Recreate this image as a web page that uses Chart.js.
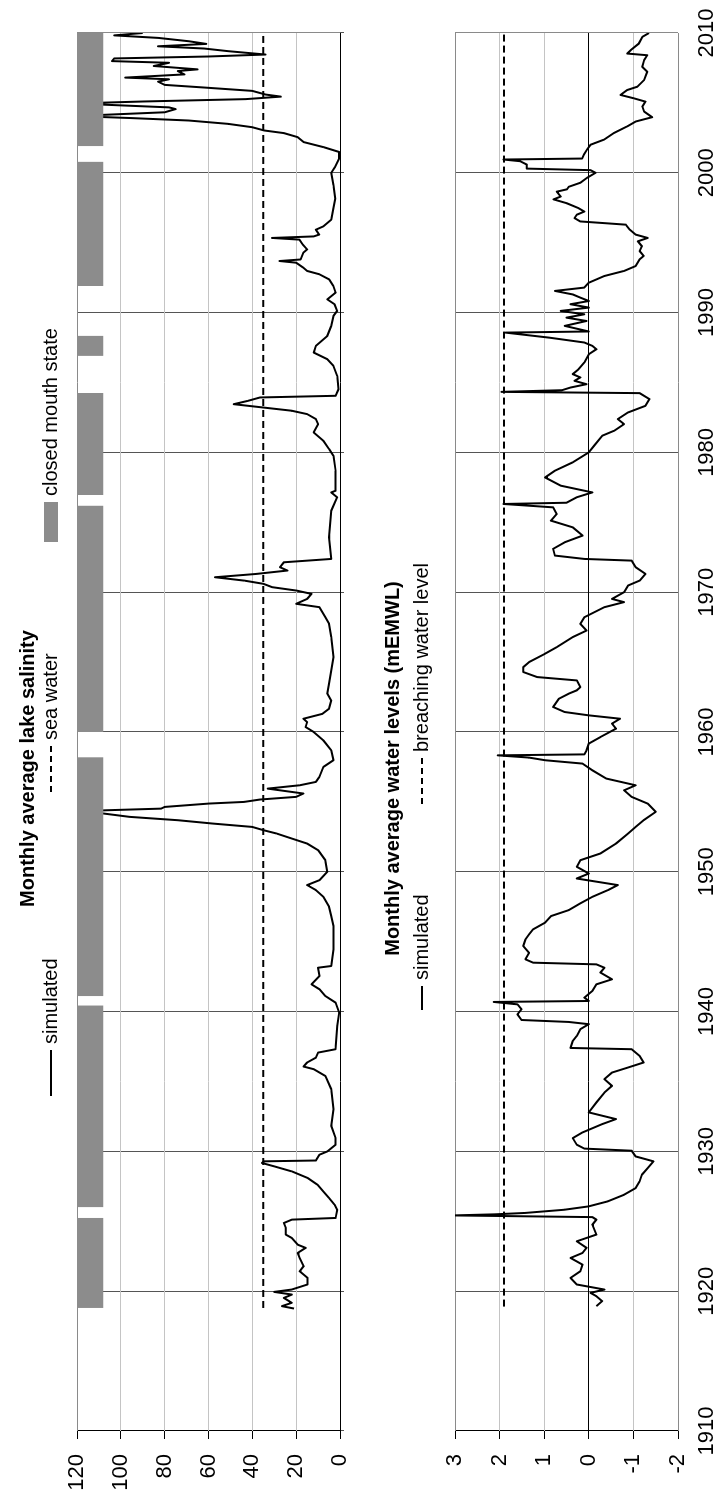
<!DOCTYPE html>
<html>
<head>
<meta charset="utf-8">
<script src="https://cdn.jsdelivr.net/npm/chart.js@4.4.1/dist/chart.umd.min.js"></script>
<style>
  html, body { margin: 0; padding: 0; background: #fff; width: 723px; height: 1504px; overflow: hidden; }
  /* the figure is drawn landscape and turned a quarter left */
  #rot { position: absolute; left: 0; top: 0; width: 1504px; height: 723px;
         transform-origin: 0 0; transform: translate(0, 1504px) rotate(-90deg); }
  #rot canvas { position: absolute; left: 0; }
  #salinity { top: 0; }
  #levels { top: 370px; }
</style>
</head>
<body>
<div id="rot">
  <canvas id="salinity" width="1504" height="370"></canvas>
  <canvas id="levels" width="1504" height="353"></canvas>
</div>
<script>
// --- data ---
const yearTicks = [1910, 1920, 1930, 1940, 1950, 1960, 1970, 1980, 1990, 2000, 2010];
const salinityTicks = [0, 20, 40, 60, 80, 100, 120];
const levelTicks = [-2, -1, 0, 1, 2, 3];

// monthly average lake salinity (simulated)
const salYears = [1918.76, 1918.93, 1919.17, 1919.52, 1919.76, 1919.95, 1920.12, 1920.48, 1920.95, 1921.43,
  1921.79, 1922.38, 1922.74, 1923.1, 1923.33, 1923.81, 1924.05, 1924.52, 1924.88, 1925.12,
  1925.24, 1925.83, 1926.19, 1926.67, 1927.14, 1927.62, 1928.1, 1928.57, 1928.93, 1929.17,
  1929.29, 1929.35, 1929.76, 1930.0, 1930.48, 1930.95, 1931.83, 1933.02, 1934.45, 1935.4,
  1935.88, 1936.07, 1936.36, 1936.71, 1937.07, 1937.31, 1938.98, 1939.93, 1940.64, 1941.12,
  1941.6, 1941.95, 1942.55, 1943.14, 1943.26, 1944.45, 1946.12, 1946.83, 1947.5, 1948.21,
  1948.69, 1949.05, 1949.4, 1950.0, 1950.83, 1951.55, 1952.02, 1952.38, 1952.74, 1952.98,
  1953.21, 1953.45, 1953.69, 1953.93, 1954.17, 1954.3, 1954.4, 1954.52, 1954.64, 1954.88,
  1955.0, 1955.17, 1955.36, 1955.6, 1955.95, 1956.19, 1956.43, 1956.79, 1957.5, 1957.98,
  1958.69, 1959.4, 1960.0, 1960.36, 1960.71, 1960.95, 1961.3, 1961.67, 1962.26, 1962.74,
  1963.45, 1964.4, 1965.36, 1966.79, 1967.74, 1968.21, 1968.93, 1969.17, 1969.52, 1969.88,
  1970.12, 1970.36, 1970.6, 1970.83, 1971.07, 1971.31, 1971.55, 1971.79, 1972.14, 1972.38,
  1973.93, 1975.83, 1976.79, 1977.14, 1977.26, 1978.69, 1979.76, 1980.24, 1980.83, 1981.43,
  1982.02, 1982.38, 1982.74, 1982.98, 1983.21, 1983.45, 1983.69, 1983.93, 1984.05, 1984.52,
  1985.48, 1986.19, 1986.67, 1987.14, 1987.62, 1988.33, 1989.05, 1989.76, 1990.12, 1990.6,
  1990.95, 1991.43, 1991.9, 1992.38, 1992.74, 1992.98, 1993.21, 1993.57, 1993.69, 1993.8,
  1994.29, 1994.52, 1994.87, 1995.22, 1995.34, 1995.45, 1995.58, 1995.93, 1996.17, 1996.64,
  1997.5, 1998.15, 1999.1, 2000.0, 2000.43, 2001.02, 2001.49, 2001.84, 2002.2, 2002.55,
  2002.84, 2003.03, 2003.26, 2003.5, 2003.74, 2003.92, 2004.06, 2004.33, 2004.56, 2004.68,
  2004.96, 2005.1, 2005.27, 2005.45, 2005.6, 2005.86, 2006.1, 2006.29, 2006.52, 2006.69,
  2006.81, 2007.04, 2007.28, 2007.4, 2007.64, 2007.87, 2007.99, 2008.18, 2008.32, 2008.46,
  2008.7, 2008.89, 2009.05, 2009.22, 2009.41, 2009.65, 2009.83, 2010.0];
const salValues = [21, 26.5, 22, 25.6, 22, 30, 22, 14.8, 14.8, 18.4,
  16.6, 18.4, 19.3, 15.7, 19.3, 22, 24.7, 24.7, 25.6, 22,
  2, 1.3, 2.5, 5, 7.6, 10.3, 14.8, 22, 30, 35.6,
  34.7, 11, 9.4, 5.8, 2, 2, 4, 3, 4, 6.7,
  12, 16.6, 15, 11, 10, 2, 1.3, 0.4, 2, 6.7,
  9.4, 13, 9.4, 10, 4, 3, 3, 4, 5, 7.6,
  11, 15, 9.4, 5.8, 6.7, 10, 15, 22, 29, 35,
  40, 58, 74, 96, 108, 121, 107, 81.6, 80, 60,
  43.7, 36.5, 20, 16.7, 33, 18.4, 11, 9.4, 7.6, 3,
  4, 7.6, 12, 15.7, 15, 16.7, 8, 5, 4, 5.8,
  5, 4, 3, 4, 5, 6.7, 9.4, 20, 15, 13,
  20, 31, 35, 43.7, 57, 38, 24, 27.4, 25.6, 4,
  5, 4, 1.3, 4, 2, 2, 3, 5, 7.6, 12,
  10, 11, 15, 22, 35, 48.5, 42, 36.5, 2, 0.7,
  1.3, 3, 5.8, 12, 11, 5.8, 4, 3, 1.3, 2.5,
  5.8, 2, 3, 5, 9.4, 15, 16.7, 20, 27.6, 18,
  16.7, 15, 17, 18.5, 31, 12, 9.5, 11, 7.6, 4,
  3, 2.2, 3, 4, 2.2, 0.4, 0.4, 7.6, 16.6, 19.3,
  25.6, 34.7, 40, 51, 69, 96, 121, 80, 75, 78,
  121, 90, 43, 27, 34, 40, 62, 80, 83, 78,
  98, 71, 74, 65, 85, 78, 104, 103, 60, 34,
  51, 62, 83, 61, 69, 83, 103, 90];

const seaWater = 35;
const seaWaterYears = [1918.8, 2010];

// periods with a closed mouth
const closedStart = [1918.8, 1926.0, 1941.1, 1960.0, 1976.95, 1986.9, 1991.9, 2001.9];
const closedEnd = [1925.25, 1940.45, 1958.2, 1976.2, 1984.25, 1988.35, 2000.8, 2010];

// monthly average water levels (mEMWL, simulated)
const levelYears = [1918.93, 1919.29, 1919.64, 1919.88, 1920.12, 1920.48, 1920.95, 1921.43, 1921.9, 1922.38,
  1922.74, 1923.1, 1923.57, 1924.05, 1924.76, 1925.12, 1925.3, 1925.42, 1925.5, 1925.6,
  1925.83, 1926.07, 1926.43, 1926.9, 1927.38, 1927.86, 1928.33, 1928.81, 1929.29, 1929.64,
  1930.05, 1930.2, 1930.48, 1930.95, 1931.36, 1931.95, 1932.31, 1932.79, 1933.5, 1934.21,
  1934.69, 1935.17, 1935.64, 1936.0, 1936.36, 1936.83, 1937.31, 1937.4, 1937.9, 1938.26,
  1938.74, 1939.1, 1939.26, 1939.4, 1939.81, 1940.17, 1940.52, 1940.69, 1940.76, 1941.0,
  1941.48, 1941.95, 1942.31, 1942.79, 1943.14, 1943.38, 1943.5, 1943.74, 1944.21, 1944.69,
  1945.17, 1945.52, 1945.88, 1946.36, 1946.83, 1947.26, 1947.74, 1948.21, 1948.69, 1949.05,
  1949.52, 1949.88, 1950.36, 1950.83, 1951.31, 1952.02, 1952.74, 1953.21, 1953.69, 1954.29,
  1954.88, 1955.36, 1955.83, 1956.19, 1956.67, 1957.26, 1957.74, 1957.98, 1958.17, 1958.33,
  1958.4, 1958.69, 1959.17, 1959.64, 1960.24, 1960.6, 1960.95, 1961.19, 1961.43, 1961.79,
  1962.38, 1962.74, 1962.98, 1963.21, 1963.69, 1963.93, 1964.29, 1964.64, 1965.0, 1965.6,
  1966.07, 1966.79, 1967.26, 1967.74, 1968.21, 1968.93, 1969.29, 1969.52, 1970.0, 1970.48,
  1970.83, 1971.31, 1971.79, 1972.26, 1972.38, 1972.62, 1973.1, 1973.57, 1974.05, 1974.64,
  1975.12, 1975.6, 1976.07, 1976.31, 1976.4, 1976.79, 1977.14, 1977.26, 1977.62, 1978.21,
  1978.69, 1979.29, 1980.0, 1980.48, 1981.19, 1981.55, 1982.02, 1982.38, 1982.86, 1983.33,
  1983.81, 1984.24, 1984.33, 1984.45, 1984.64, 1984.88, 1985.12, 1985.36, 1985.6, 1985.95,
  1986.43, 1987.02, 1987.38, 1987.62, 1987.86, 1988.21, 1988.57, 1988.65, 1989.05, 1989.4,
  1989.64, 1989.88, 1990.12, 1990.36, 1990.6, 1990.83, 1991.07, 1991.3, 1991.55, 1991.79,
  1992.14, 1992.62, 1992.98, 1993.33, 1993.81, 1994.05, 1994.4, 1994.75, 1995.1, 1995.34,
  1995.58, 1995.93, 1996.29, 1996.4, 1996.52, 1996.76, 1997.0, 1997.23, 1997.47, 1997.83,
  1998.1, 1998.3, 1998.65, 1998.82, 1999.0, 1999.29, 1999.64, 2000.0, 2000.19, 2000.3,
  2000.59, 2000.83, 2000.95, 2001.02, 2001.3, 2001.66, 2002.01, 2002.37, 2002.84, 2003.32,
  2003.67, 2003.98, 2004.38, 2004.74, 2005.09, 2005.33, 2005.57, 2005.92, 2006.16, 2006.64,
  2007.23, 2007.58, 2008.06, 2008.41, 2008.53, 2008.77, 2009.24, 2009.72, 2010.0];
const levelValues = [-0.17, -0.3, -0.17, -0.04, -0.35, 0.27, 0.41, 0.19, 0.14, 0.41,
  0.14, 0.05, 0.27, -0.17, -0.08, -0.17, -0.08, 3.05, 2.1, 1.42,
  0.54, 0, -0.43, -0.79, -1.05, -1.14, -1.19, -1.32, -1.45, -1.05,
  -0.96, 0.1, 0.27, 0.36, 0.14, -0.3, -0.61, 0, -0.17, -0.35,
  -0.52, -0.35, -0.52, -0.88, -1.23, -1.14, -0.96, 0.41, 0.36, 0.27,
  0.19, 0, 0.45, 1.51, 1.6, 1.51, 1.6, 2.13, 0, 0.1,
  -0.08, -0.17, -0.52, -0.26, -0.35, -0.17, 1.25, 1.42, 1.34, 1.47,
  1.42, 1.34, 1.25, 0.98, 0.85, 0.45, 0.19, -0.08, -0.43, -0.65,
  0.27, 0, 0.27, 0.19, -0.26, -0.61, -0.88, -1.05, -1.23, -1.5,
  -1.32, -0.96, -0.79, -1.05, -0.39, -0.08, 0.14, 0.98, 1.34, 2.04,
  0.1, 0.05, 0, -0.26, -0.61, -0.52, -0.7, 0, 0.54, 0.8,
  0.67, 0.45, 0.27, 0.19, 0.27, 1.16, 1.47, 1.47, 1.34, 0.98,
  0.72, 0.36, 0.05, 0.19, 0.1, -0.35, -0.79, -0.52, -0.79, -0.88,
  -1.14, -1.27, -1.05, -0.96, 0.1, 0.76, 0.8, 0.54, 0.14, 0.36,
  0.85, 0.72, 0.8, 1.91, 0.5, 0.27, -0.08, 0.1, 0.63, 0.98,
  0.76, 0.36, 0, -0.12, -0.3, -0.57, -0.79, -0.65, -0.88, -1.27,
  -1.36, -1.14, 1.96, 0.6, 0.41, 0.05, 0.32, 0.19, 0.36, 0.23,
  0.1, 0, -0.17, -0.08, 0.1, 0.89, 1.87, 0, 0.54, 0.05,
  0.5, 0.1, 0.63, 0, 0.41, 0, 0.19, 0.36, 0.76, 0.1,
  0, -0.35, -0.79, -1.05, -1.14, -1.23, -1.14, -1.19, -1.1, -1.32,
  -1.05, -0.92, -0.83, -0.35, 0.19, 0.32, 0.27, 0.1, 0.23, 0.5,
  0.79, 0.63, 0.72, 0.49, 0.45, 0.19, 0.04, -0.15, -0.04, 1.39,
  1.39, 1.54, 1.91, 0.15, 0.11, 0.04, -0.04, -0.34, -0.56, -0.86,
  -1.05, -1.42, -1.24, -1.2, -1.27, -1.01, -0.71, -0.86, -1.09, -1.24,
  -1.31, -1.2, -1.24, -1.31, -0.86, -0.94, -1.12, -1.2, -1.35];

const breachLevel = 1.9;
const breachYears = [1918.9, 2010];

// --- helpers ---
const FONT = '"Liberation Sans", Arial, Helvetica, sans-serif';
Chart.defaults.font.family = FONT;
Chart.defaults.color = '#000';

const toPoints = (xs, ys) => xs.map((x, i) => ({ x: x, y: ys[i] }));

// legend drawn as plain text next to small samples, spread like the original
const sideLegend = {
  id: 'sideLegend',
  afterDraw(chart, args, opts) {
    const ctx = chart.ctx;
    ctx.save();
    ctx.font = '20px ' + FONT;
    ctx.textBaseline = 'middle';
    ctx.textAlign = 'left';
    opts.items.forEach(it => {
      const y = opts.y;
      if (it.kind === 'box') {
        ctx.fillStyle = '#8c8c8c';
        ctx.fillRect(it.x, y - 7, 40, 14);
      } else {
        ctx.strokeStyle = '#000';
        ctx.lineWidth = 2;
        ctx.setLineDash(it.kind === 'dash' ? [6, 4] : []);
        ctx.beginPath();
        ctx.moveTo(it.x, y);
        ctx.lineTo(it.x + it.len, y);
        ctx.stroke();
      }
      ctx.setLineDash([]);
      ctx.fillStyle = '#000';
      ctx.fillText(it.text, it.x + it.len + 6, y);
    });
    ctx.restore();
  }
};

function xScale(showLabels, tickLen) {
  return {
    type: 'linear',
    min: 1910,
    max: 2010,
    afterBuildTicks: s => { s.ticks = yearTicks.map(v => ({ value: v })); },
    ticks: { display: showLabels, font: { size: 22 }, color: '#000', padding: 16, maxRotation: 0,
             callback: v => String(v) },
    grid: {
      color: c => c.tick && (c.tick.value === 2010) ? '#8a8a8a' : (c.tick && c.tick.value === 1910 ? '#000' : '#555'),
      tickColor: '#555',
      tickLength: tickLen,
      drawTicks: tickLen > 0
    },
    border: { display: false },
    afterFit: s => {
      s.height = showLabels ? 45 : 30;
      // keep both panels on the same time span
      s.paddingLeft = 0;
      s.paddingRight = 0;
    }
  };
}

function yScale(min, max, ticks, topVal) {
  return {
    min: min,
    max: max,
    afterBuildTicks: s => { s.ticks = ticks.map(v => ({ value: v })); },
    ticks: { font: { size: 22 }, color: '#000', padding: 15 },
    grid: {
      color: c => {
        const v = c.tick ? c.tick.value : null;
        if (v === 0) return '#000';
        if (v === topVal || v === min) return '#8a8a8a';
        return '#c4c4c4';
      },
      tickColor: '#000',
      tickLength: 8
    },
    border: { display: false },
    afterFit: s => { s.width = 73; }
  };
}

// --- upper panel: salinity ---
const closedSets = closedStart.map((s, i) => ({
  label: 'closed mouth state',
  data: [{ x: s, y: 120 }, { x: closedEnd[i], y: 120 }],
  borderWidth: 0,
  pointRadius: 0,
  backgroundColor: '#8c8c8c',
  fill: { value: 108 },
  order: 0
}));

new Chart(document.getElementById('salinity'), {
  type: 'line',
  data: {
    datasets: closedSets.concat([
      {
        label: 'sea water',
        data: toPoints(seaWaterYears, [seaWater, seaWater]),
        borderColor: '#000',
        borderWidth: 2,
        borderDash: [7, 4],
        pointRadius: 0,
        fill: false,
        order: 1
      },
      {
        label: 'simulated',
        data: toPoints(salYears, salValues),
        borderColor: '#000',
        borderWidth: 2,
        borderJoinStyle: 'round',
        pointRadius: 0,
        tension: 0,
        fill: false,
        order: 2
      }
    ])
  },
  options: {
    responsive: false,
    animation: false,
    events: [],
    layout: { padding: { left: 0, right: 33, top: 0, bottom: 0 } },
    plugins: {
      legend: { display: false },
      tooltip: { enabled: false },
      title: {
        display: true,
        text: 'Monthly average lake salinity',
        color: '#000',
        font: { size: 20, weight: 'bold' },
        padding: { top: 16, bottom: 37 }
      },
      sideLegend: {
        y: 51,
        items: [
          { kind: 'line', x: 408, len: 46, text: 'simulated' },
          { kind: 'dash', x: 712, len: 46, text: 'sea water' },
          { kind: 'box', x: 962, len: 40, text: 'closed mouth state' }
        ]
      }
    },
    scales: {
      x: xScale(false, 4),
      y: yScale(0, 120, salinityTicks, 120)
    }
  },
  plugins: [sideLegend]
});

// --- lower panel: water levels ---
new Chart(document.getElementById('levels'), {
  type: 'line',
  data: {
    datasets: [
      {
        label: 'breaching water level',
        data: toPoints(breachYears, [breachLevel, breachLevel]),
        borderColor: '#000',
        borderWidth: 2,
        borderDash: [7, 4],
        pointRadius: 0,
        fill: false,
        order: 1
      },
      {
        label: 'simulated',
        data: toPoints(levelYears, levelValues),
        borderColor: '#000',
        borderWidth: 2,
        borderJoinStyle: 'round',
        pointRadius: 0,
        tension: 0,
        fill: false,
        order: 2
      }
    ]
  },
  options: {
    responsive: false,
    animation: false,
    events: [],
    layout: { padding: { left: 0, right: 33, top: 0, bottom: 0 } },
    plugins: {
      legend: { display: false },
      tooltip: { enabled: false },
      title: {
        display: true,
        text: 'Monthly average water levels (mEMWL)',
        color: '#000',
        font: { size: 20, weight: 'bold' },
        padding: { top: 11, bottom: 50 }
      },
      sideLegend: {
        y: 52,
        items: [
          { kind: 'line', x: 494, len: 24, text: 'simulated' },
          { kind: 'dash', x: 700, len: 46, text: 'breaching water level' }
        ]
      }
    },
    scales: {
      x: xScale(true, 0),
      y: yScale(-2, 3, levelTicks, 3)
    }
  },
  plugins: [sideLegend]
});
</script>
</body>
</html>
